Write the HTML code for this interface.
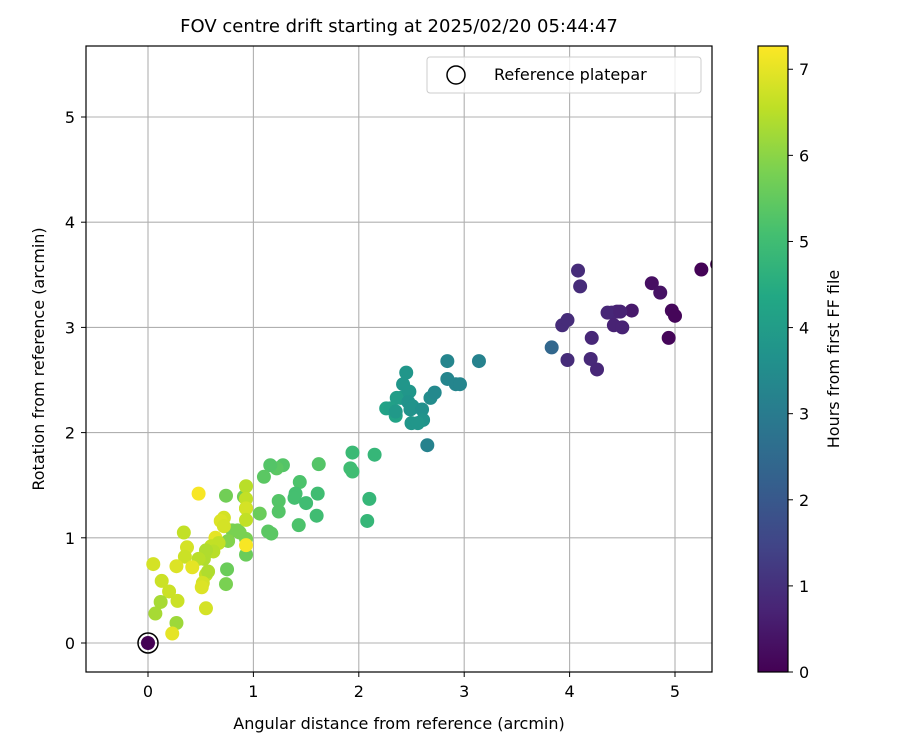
<!DOCTYPE html>
<html><head><meta charset="utf-8"><style>
body{margin:0;background:#fff;font-family:"Liberation Sans","DejaVu Sans",sans-serif}
svg text{font-family:"DejaVu Sans","Liberation Sans",sans-serif;fill:#000}
</style></head><body>
<svg id="chart" width="900" height="750" xmlns="http://www.w3.org/2000/svg">
<defs>
<linearGradient id="vir" x1="0" y1="1" x2="0" y2="0">
<stop offset="0" stop-color="#440154"/><stop offset="0.1" stop-color="#482475"/><stop offset="0.2" stop-color="#414487"/><stop offset="0.3" stop-color="#355f8d"/><stop offset="0.4" stop-color="#2a788e"/><stop offset="0.5" stop-color="#21918c"/><stop offset="0.6" stop-color="#22a884"/><stop offset="0.7" stop-color="#44bf70"/><stop offset="0.8" stop-color="#7ad151"/><stop offset="0.9" stop-color="#bddf26"/><stop offset="1" stop-color="#fde725"/>
</linearGradient>
<clipPath id="plotclip"><rect x="86" y="46" width="626" height="626"/></clipPath>
</defs>
<text x="399" y="32" font-size="18" text-anchor="middle">FOV centre drift starting at 2025/02/20 05:44:47</text>
<g id="grid"></g>
<g id="points" clip-path="url(#plotclip)"></g>
<rect x="86" y="46" width="626" height="626" fill="none" stroke="#000" stroke-width="1.2"/>
<g id="ticks"></g>
<text x="399" y="729" font-size="16" text-anchor="middle">Angular distance from reference (arcmin)</text>
<text transform="translate(44,359) rotate(-90)" font-size="16" text-anchor="middle">Rotation from reference (arcmin)</text>
<g>
<rect x="427" y="57" width="274" height="36" rx="3" fill="#fff" fill-opacity="0.8" stroke="#ccc"/>
<circle cx="456" cy="75" r="9" fill="none" stroke="#000" stroke-width="1.5"/>
<text x="494" y="80" font-size="16">Reference platepar</text>
</g>
<rect x="758" y="46" width="30" height="626" fill="url(#vir)" stroke="#000" stroke-width="1.2"/>
<g id="cbticks"></g>
<text transform="translate(839,359) rotate(-90)" font-size="16" text-anchor="middle">Hours from first FF file</text>
</svg>
<script>
const xs=[5.25,4.78,4.86,4.97,5.0,4.94,4.59,4.45,4.40,4.36,4.48,4.42,4.50,4.08,4.10,3.93,3.98,4.21,3.98,4.20,4.26,3.83,
3.14,2.84,2.84,2.92,2.96,2.68,2.72,2.65,2.45,2.42,2.40,2.36,2.26,2.30,2.35,2.48,2.47,2.51,2.49,2.50,2.60,2.61,2.56,2.35,
2.15,1.94,1.92,1.94,2.10,2.08,1.62,1.61,1.60,1.44,1.40,1.39,1.50,1.43,1.28,1.22,1.16,1.10,1.24,1.24,1.14,1.17,1.06,0.93,0.91,0.74,0.80,0.87,0.85,0.93,0.93,0.76,0.75,0.74,
0.48,0.93,0.93,0.93,0.93,0.93,0.72,0.69,0.72,0.64,0.67,0.60,0.62,0.55,0.53,0.48,0.37,0.35,0.34,0.42,0.27,0.05,0.55,0.57,0.52,0.51,0.55,0.13,0.20,0.12,0.07,0.28,0.27,0.23,5.4,0.0];
const ys=[3.55,3.42,3.33,3.16,3.11,2.90,3.16,3.15,3.14,3.14,3.15,3.02,3.00,3.54,3.39,3.02,3.07,2.90,2.69,2.70,2.60,2.81,
2.68,2.68,2.51,2.46,2.46,2.33,2.38,1.88,2.57,2.46,2.33,2.33,2.23,2.23,2.16,2.39,2.29,2.25,2.22,2.09,2.22,2.12,2.09,2.20,
1.79,1.81,1.66,1.63,1.37,1.16,1.70,1.42,1.21,1.53,1.42,1.38,1.33,1.12,1.69,1.66,1.69,1.58,1.35,1.25,1.06,1.04,1.23,1.28,1.39,1.40,1.07,1.05,1.07,0.84,0.99,0.97,0.70,0.56,
1.42,1.49,1.37,1.28,1.17,0.93,1.19,1.16,1.11,1.00,0.95,0.92,0.87,0.88,0.80,0.80,0.91,0.82,1.05,0.72,0.73,0.75,0.65,0.68,0.57,0.53,0.33,0.59,0.49,0.39,0.28,0.40,0.19,0.09,3.6,0.0];
const hours=[0.05,0.3,0.35,0.15,0.1,0.1,0.5,0.7,0.75,0.8,0.7,0.7,0.7,0.9,0.9,0.9,0.9,0.8,0.9,0.85,0.8,2.4,
3.2,3.3,3.3,3.3,3.3,3.5,3.4,3.2,3.8,3.8,3.9,4.0,4.2,4.1,4.2,3.8,3.7,3.7,3.7,3.8,3.6,3.7,3.8,3.9,
4.8,4.9,5.0,5.0,4.8,4.8,5.3,5.0,5.0,5.2,5.1,5.1,5.0,5.2,5.3,5.4,5.3,5.4,5.3,5.3,5.4,5.4,5.6,5.6,5.7,5.7,5.8,5.8,5.8,5.6,5.8,5.9,5.6,5.8,
7.2,6.5,6.6,6.8,6.6,7.2,6.8,6.9,6.8,7.0,6.6,6.6,6.5,6.4,6.4,6.5,6.8,6.7,6.6,7.0,6.9,6.8,6.6,6.4,6.8,6.9,6.8,6.7,6.7,6.3,6.3,6.7,6.2,7.0,0.0,0.0];
const xTicks=[0,1,2,3,4,5];
const yTicks=[0,1,2,3,4,5];
const cTicks=[0,1,2,3,4,5,6,7];
const HMAX=7.27;
const X=v=>148+v*105.4, Y=v=>643-v*105.2, C=v=>672-v*(626/HMAX);
const stops=["#440154","#482475","#414487","#355f8d","#2a788e","#21918c","#22a884","#44bf70","#7ad151","#bddf26","#fde725"];
function vir(t){t=Math.max(0,Math.min(1,t))*10;const i=Math.min(9,Math.floor(t)),f=t-i;
const a=stops[i],b=stops[i+1];const p=(s,k)=>parseInt(s.substr(1+2*k,2),16);
return 'rgb('+[0,1,2].map(k=>Math.round(p(a,k)+(p(b,k)-p(a,k))*f)).join(',')+')';}
const NS="http://www.w3.org/2000/svg";
function mk(tag,at,par){const e=document.createElementNS(NS,tag);for(const k in at)e.setAttribute(k,at[k]);par.appendChild(e);return e;}
const grid=document.getElementById('grid'),ticks=document.getElementById('ticks'),pts=document.getElementById('points'),cb=document.getElementById('cbticks');
xTicks.forEach(v=>{
const l=mk('line',{x1:X(v),x2:X(v),y1:46,y2:672,stroke:'#b0b0b0','stroke-width':1.1},grid);


const t=mk('line',{x1:X(v),x2:X(v),y1:672,y2:677,stroke:'#000'},ticks);


const tx=mk('text',{x:X(v),y:697,'font-size':16,'text-anchor':'middle'},ticks);tx.textContent=v;


});
yTicks.forEach(v=>{
const l=mk('line',{x1:86,x2:712,y1:Y(v),y2:Y(v),stroke:'#b0b0b0','stroke-width':1.1},grid);


const t=mk('line',{x1:81,x2:86,y1:Y(v),y2:Y(v),stroke:'#000'},ticks);


const tx=mk('text',{x:75,y:Y(v)+6,'font-size':16,'text-anchor':'end'},ticks);tx.textContent=v;


});
cTicks.forEach(v=>{
const t=mk('line',{x1:788,x2:793,y1:C(v),y2:C(v),stroke:'#000'},cb);


const tx=mk('text',{x:799,y:C(v)+6,'font-size':16},cb);tx.textContent=v;


});
for(let i=0;i<xs.length;i++){
const c=mk('circle',{cx:X(xs[i]),cy:Y(ys[i]),r:7,fill:vir(hours[i]/HMAX)},pts);


}
const ref=mk('circle',{cx:X(0),cy:Y(0),r:10,fill:'none',stroke:'#000','stroke-width':1.5},pts);


</script>
</body></html>
